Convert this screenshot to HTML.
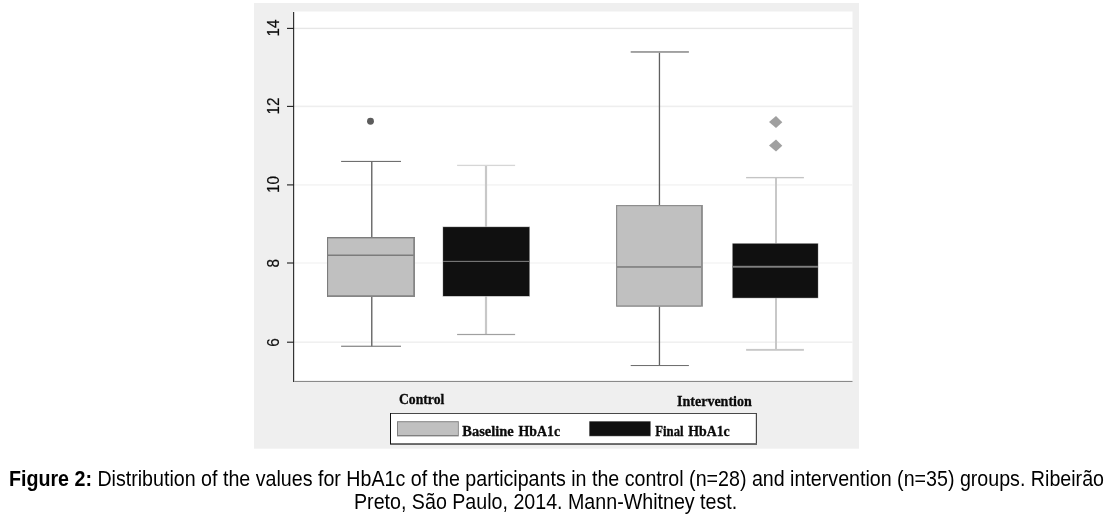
<!DOCTYPE html>
<html><head><meta charset="utf-8"><title>Figure 2</title>
<style>
html,body{margin:0;padding:0;background:#fff;}
body{width:1113px;height:524px;overflow:hidden;position:relative;font-family:"Liberation Sans",sans-serif;}
#chart{position:absolute;left:0;top:0;}
.cap{position:absolute;white-space:nowrap;font-size:19.65px;line-height:23px;transform:scaleY(1.08);transform-origin:0 18px;color:#000;font-family:"Liberation Sans",sans-serif;}
#l1{left:9.0px;top:468px;}
#l2{left:354px;top:490.6px;}
.ax{font-family:"Liberation Sans",sans-serif;font-size:17.2px;fill:#0c0c0c;stroke:#0c0c0c;stroke-width:0.2;}
.lb{font-family:"Liberation Serif",serif;font-weight:bold;fill:#0a0a0a;stroke:#0a0a0a;stroke-width:0.3;}
</style></head><body>
<svg id="chart" width="1113" height="460" viewBox="0 0 1113 460">
<rect x="254" y="3" width="605" height="445.7" fill="#efefef"/>
<rect x="293" y="11.5" width="559.5" height="370" fill="#ffffff"/>
<rect x="294" y="27.7" width="558.5" height="1.4" fill="#e6e6e6"/>
<rect x="294" y="105.6" width="558.5" height="1.6" fill="#eeeeee"/>
<rect x="294" y="184" width="558.5" height="1.8" fill="#f5f5f5"/>
<rect x="294" y="262.2" width="558.5" height="1.6" fill="#f6f6f6"/>
<rect x="294" y="341.4" width="558.5" height="1.6" fill="#f0f0f0"/>
<rect x="293" y="12" width="1.2" height="370" fill="#333333"/>
<rect x="294.2" y="380.9" width="558.3" height="1.1" fill="#8a8a8a"/>
<rect x="287" y="27.85" width="7" height="1.1" fill="#202020"/>
<text class="ax" text-anchor="middle" transform="translate(279,27.9) rotate(-90) scale(0.89,1)">14</text>
<rect x="287" y="105.85" width="7" height="1.1" fill="#202020"/>
<text class="ax" text-anchor="middle" transform="translate(279,105.9) rotate(-90) scale(0.89,1)">12</text>
<rect x="287" y="184.35" width="7" height="1.1" fill="#202020"/>
<text class="ax" text-anchor="middle" transform="translate(279,184.4) rotate(-90) scale(0.89,1)">10</text>
<rect x="287" y="262.45" width="7" height="1.1" fill="#202020"/>
<text class="ax" text-anchor="middle" transform="translate(279,263.2) rotate(-90) scale(0.89,1)">8</text>
<rect x="287" y="341.65" width="7" height="1.1" fill="#202020"/>
<text class="ax" text-anchor="middle" transform="translate(279,342.4) rotate(-90) scale(0.89,1)">6</text>
<rect x="371" y="161.4" width="1.5" height="76.1" fill="#707070"/>
<rect x="371" y="296.5" width="1.5" height="49.8" fill="#707070"/>
<rect x="341.1" y="160.9" width="59.9" height="1.05" fill="#686868"/>
<rect x="341.1" y="345.7" width="59.9" height="1.1" fill="#787878"/>
<rect x="327" y="237" width="88" height="60" fill="#7c7c7c"/>
<rect x="413" y="238" width="2" height="59" fill="#868686"/>
<rect x="328" y="295" width="87" height="2" fill="#868686"/>
<rect x="328.1" y="238.4" width="85.1" height="56.8" fill="#c0c0c0"/>
<rect x="328" y="254.6" width="85.5" height="1.2" fill="#6c6c6c"/>
<circle cx="370.5" cy="121.3" r="3.45" fill="#5c5c5c"/>
<rect x="484.9" y="165.4" width="2.2" height="61.6" fill="#c8c8c8"/>
<rect x="484.9" y="296" width="2.2" height="38.5" fill="#c8c8c8"/>
<rect x="457.1" y="164.75" width="58" height="1.3" fill="#d6d6d6"/>
<rect x="457.1" y="333.9" width="58" height="1.2" fill="#a0a0a0"/>
<rect x="442.6" y="226.5" width="87.4" height="70.2" fill="#b4b4b4"/>
<rect x="443.1" y="227.1" width="86.2" height="68.9" fill="#101010"/>
<rect x="443.1" y="260.85" width="86.2" height="1.05" fill="#808080"/>
<rect x="658.8" y="52" width="1.3" height="153.5" fill="#606060"/>
<rect x="658.8" y="306" width="1.3" height="59.5" fill="#606060"/>
<rect x="630.7" y="51" width="58.2" height="1.9" fill="#a0a0a0"/>
<rect x="630.7" y="365" width="58.2" height="1.05" fill="#707070"/>
<rect x="616" y="205" width="86.9" height="101.7" fill="#8e8e8e"/>
<rect x="617" y="305" width="84" height="1.7" fill="#9c9c9c"/>
<rect x="617.2" y="206.2" width="83.8" height="98.9" fill="#c0c0c0"/>
<rect x="617" y="266" width="84.2" height="1.9" fill="#888888"/>
<rect x="775" y="177.6" width="2" height="66.4" fill="#c8c8c8"/>
<rect x="775" y="297.5" width="2" height="52.5" fill="#c8c8c8"/>
<rect x="746.1" y="176.95" width="57.8" height="1.35" fill="#c4c4c4"/>
<rect x="746.1" y="348.9" width="57.8" height="1.9" fill="#c8c8c8"/>
<rect x="732.2" y="243.2" width="86.2" height="55.1" fill="#b4b4b4"/>
<rect x="732.7" y="243.7" width="85.2" height="54.1" fill="#101010"/>
<rect x="732.7" y="265.8" width="85.2" height="1.9" fill="#808080"/>
<path d="M776 115.9 L782.3 122.2 L776 128 L769 122 Z" fill="#a0a0a0"/>
<path d="M776 139.4 L782.3 145.7 L776 151.5 L769 145.5 Z" fill="#a0a0a0"/>
<text class="lb" font-size="14.5" x="399" y="403.9" textLength="45.3" lengthAdjust="spacingAndGlyphs">Control</text>
<text class="lb" font-size="14.8" x="677" y="405.9" textLength="74.8" lengthAdjust="spacingAndGlyphs">Intervention</text>
<rect x="390" y="413" width="367" height="31.8" fill="#484848"/>
<rect x="390" y="443.1" width="367" height="1.7" fill="#686868"/>
<rect x="391" y="414" width="364.8" height="29.1" fill="#ffffff"/>
<rect x="390" y="413" width="1" height="31" fill="#101010"/>
<rect x="397" y="421.2" width="61.8" height="15.2" fill="#808080"/>
<rect x="398" y="422.2" width="59.9" height="12.8" fill="#c0c0c0"/>
<rect x="589.2" y="421.2" width="61.5" height="15.1" fill="#707070"/>
<rect x="589.7" y="421.7" width="60.5" height="14.1" fill="#101010"/>
<text class="lb" font-size="13.9" y="435.9"><tspan x="462.3" textLength="51.5" lengthAdjust="spacingAndGlyphs">Baseline</tspan> <tspan x="518.6" textLength="41.5" lengthAdjust="spacingAndGlyphs">HbA1c</tspan></text>
<text class="lb" font-size="13.9" y="435.9"><tspan x="655.3" textLength="28.3" lengthAdjust="spacingAndGlyphs">Final</tspan> <tspan x="688.2" textLength="41.6" lengthAdjust="spacingAndGlyphs">HbA1c</tspan></text>
</svg>
<div class="cap" id="l1"><b>Figure 2:</b> Distribution of the values for HbA1c of the participants in the control (n=28) and intervention (n=35) groups. Ribeirão</div>
<div class="cap" id="l2">Preto, São Paulo, 2014. Mann-Whitney test.</div>
</body></html>
